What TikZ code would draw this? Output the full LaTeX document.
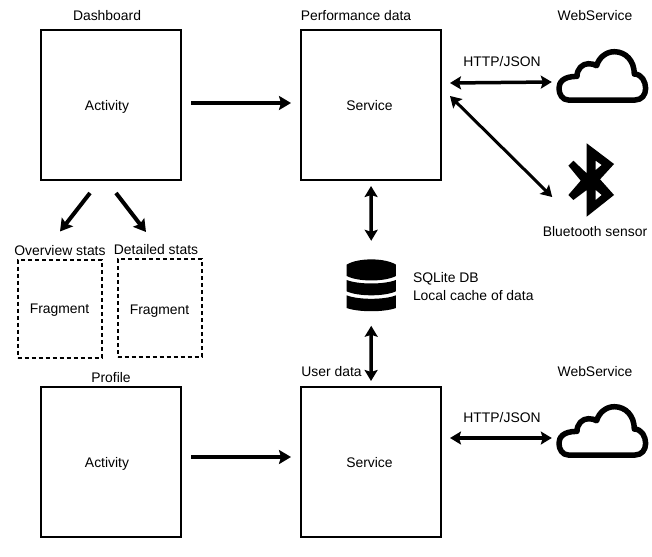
\documentclass[tikz,border=0pt]{standalone}
\usepackage{fontspec}
\setmainfont{Liberation Sans}
\usetikzlibrary{arrows.meta, positioning}

\tikzset{
    pics/cloudicon/.style={code={
        \draw[line width=5.5pt, line join=round] (-102,-73) .. controls (-120,-73) and (-130,-55) .. (-130,-38)
            .. controls (-130,-20) and (-118,-2) .. (-76,-2)
            .. controls (-76,20) and (-60,36) .. (-42,36)
            .. controls (-32,36) and (-24,34) .. (-17,30)
            .. controls (-10,55) and (12,72) .. (36,72)
            .. controls (70,72) and (96,45) .. (96,5)
            .. controls (118,5) and (130,-18) .. (130,-38)
            .. controls (130,-58) and (118,-73) .. (98,-73) -- cycle;
    }},
    pics/bluetoothicon/.style={code={
        \fill[even odd rule] (-12,110) -- (70,48) -- (28,2) -- (70,-45) -- (-12,-110) -- (-12,-30) -- (-52,-60)
            -- (-67,-45) -- (-30,-2) -- (-67,43) -- (-52,58) -- (-12,20) -- cycle
            (15,58) -- (15,30) -- (33,45) -- cycle
            (15,-30) -- (15,-60) -- (33,-45) -- cycle;
    }},
    pics/dbicon/.style={code={
        \fill (-74,62) .. controls (-40,83) and (40,83) .. (74,62) -- (74,28) .. controls (40,10) and (-40,10) .. (-74,28) -- cycle;
        \fill (-74,16) .. controls (-40,2) and (40,2) .. (74,16) -- (74,-18) .. controls (40,-34) and (-40,-34) .. (-74,-18) -- cycle;
        \fill (-74,-30) .. controls (-40,-44) and (40,-44) .. (74,-30) -- (74,-68) .. controls (40,-81) and (-40,-81) .. (-74,-68) -- cycle;
    }},
}

\begin{document}
\begin{tikzpicture}[
    x=1pt, y=1pt,
    font=\fontsize{13.9}{16.7}\selectfont,
    every node/.style={inner sep=0pt, outer sep=0pt},
    box/.style={draw, line width=2pt, text depth=0pt, minimum width=140pt, minimum height=150pt},
    fragbox/.style={draw, line width=2pt, text depth=0pt, dash pattern=on 4pt off 3pt, minimum width=84pt, minimum height=98pt},
    icon/.style={minimum width=#1},
    arr/.style={-{Stealth[length=12pt, width=14pt, inset=2pt]}, line width=4pt},
    dblarr/.style={{Stealth[length=11pt, width=13pt, inset=2pt]}-{Stealth[length=11pt, width=13pt, inset=2pt]}, line width=3.5pt},
]
\useasboundingbox (0,0) rectangle (652,-556);

\node[box] (activity1) at (111,-105) {Activity\kern8pt};
\node[box, right=120pt of activity1] (service1) {Service\kern3pt};
\node[box, below=207pt of activity1] (activity2) {Activity\kern8pt};
\node[box, right=120pt of activity2] (service2) {Service\kern3pt};

\node[fragbox] (frag1) at (59.5,-308.5) {Fragment};
\node[fragbox] (frag2) at (159.5,-308) {\raisebox{-3.5pt}{Fragment}};

\node[icon=91pt, minimum height=52pt] (cloud1) at (602.3,-75.7) {};
\node[icon=91pt, minimum height=52pt] (cloud2) at (602.3,-430.7) {};
\node[icon=47pt, minimum height=73pt] (bluetooth) at (590.7,-180) {};
\node[icon=50pt, minimum height=53pt] (db) at (371.3,-285.3) {};
\pic[scale=1/3] at (cloud1) {cloudicon};
\pic[scale=1/3] at (cloud2) {cloudicon};
\pic[scale=1/3] at (bluetooth) {bluetoothicon};
\pic[scale=1/3] at (db) {dbicon};

% Labels
\node[above=9pt of activity1, xshift=-4pt] (dashboard) {Dashboard};
\node[above=9pt of service1, xshift=-15pt] (perfdata) {Performance data};
\node (web1) at (595,-15.5) {WebService};
\node (http1) at (502,-62) {HTTP/JSON};
\node (sensor) at (595,-232) {Bluetooth sensor};
\node (overview) at (60,-251) {Overview stats};
\node (detailed) at (156,-250) {Detailed stats};
\node[above=4pt of activity2] (profile) {Profile};
\node (userdata) at (331.5,-372) {User data};
\node (web2) at (595,-371.5) {WebService};
\node (http2) at (502,-418) {HTTP/JSON};
\node[align=left, anchor=west] (dblabel) at (413,-286.5) {SQLite DB\\[1.5pt]Local cache of data};

% Connectors
\draw[arr] ([shift={(10,2)}]activity1.east) -- ([shift={(-10,2)}]service1.west);
\draw[arr] ([shift={(10,5)}]activity2.east) -- ([shift={(-10,5)}]service2.west);
\draw[arr] ([shift={(-21,-13)}]activity1.south) -- ([shift={(0.5,28)}]frag1.north);
\draw[arr] ([shift={(5,-13)}]activity1.south) -- ([shift={(-13.5,27)}]frag2.north);

\draw[dblarr, shorten <=6pt, shorten >=18pt] (service1.south) -- (db.north);
\draw[dblarr, shorten <=14pt, shorten >=6pt] (db.south) -- (service2.north);
\draw[dblarr] ([shift={(9,22)}]service1.east) -- ([shift={(-5,-6.3)}]cloud1.west);
\draw[dblarr] ([shift={(9,24)}]service2.east) -- ([shift={(-5,-7.3)}]cloud2.west);
\draw[dblarr, line width=3pt] ([shift={(9,9)}]service1.east) -- ([shift={(-15,-17)}]bluetooth.west);

\end{tikzpicture}
\end{document}
